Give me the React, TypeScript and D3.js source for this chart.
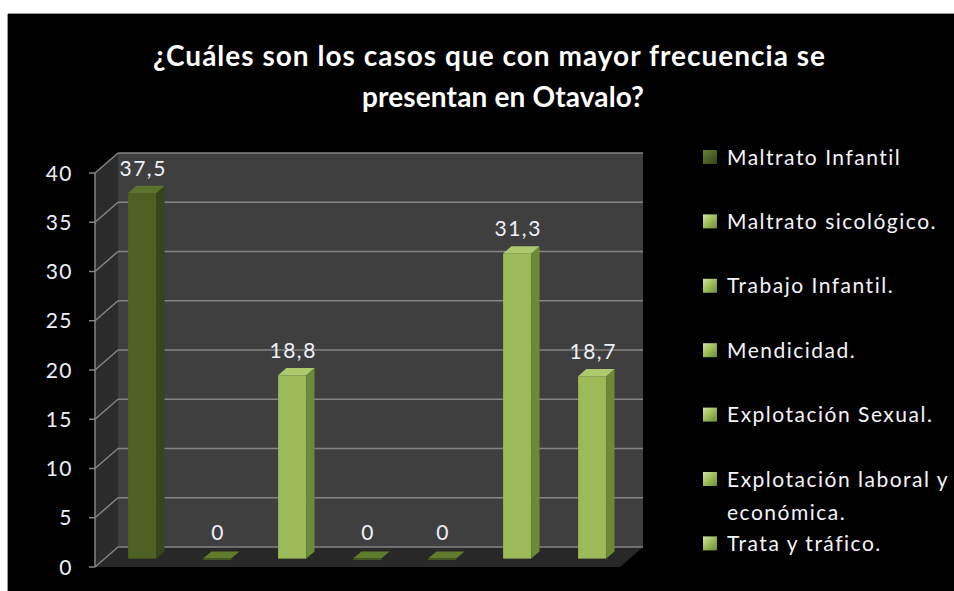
import React from "react";
import * as d3 from "d3";

const categories = [
  "Maltrato Infantil",
  "Maltrato sicológico.",
  "Trabajo Infantil.",
  "Mendicidad.",
  "Explotación Sexual.",
  "Explotación laboral y económica.",
  "Trata y tráfico.",
];
const values = [37.5, 0, 18.8, 0, 0, 31.3, 18.7];
const valueLabels = ["37,5", "0", "18,8", "0", "0", "31,3", "18,7"];
const legendLines = [
  ["Maltrato Infantil"],
  ["Maltrato sicológico."],
  ["Trabajo Infantil."],
  ["Mendicidad."],
  ["Explotación Sexual."],
  ["Explotación laboral y", "económica."],
  ["Trata y tráfico."],
];
const yTicks = [0, 5, 10, 15, 20, 25, 30, 35, 40];
const titleLines = ["¿Cuáles son los casos que con mayor frecuencia se", "presentan en Otavalo?"];

const W = 954;
const H = 591;
const X0 = 95;
const X1 = 620;
const DX = 23;
const DY = -20;
const F0 = 0.42;
const F1 = 0.78;

const dark = { front: "#4d6125", side: "#36461a", top: "#5b732d" };
const light = { front: "#9bbb59", side: "#6d8a36", top: "#adc96e" };
const flat = "#5f7b2c";

export default function App() {
  const y = d3.scaleLinear().domain([0, 40]).range([567, 173]);
  const yBar = d3.scaleLinear().domain([0, 40]).range([567 + F0 * DY, 567 + F0 * DY - 390]);
  const x = d3.scaleBand<string>().domain(categories).range([X0, X1]).paddingInner(0).paddingOuter(0);
  const bw = x.bandwidth() * 0.375;
  const dd = F1 - F0;
  const font = "Lato, 'Open Sans', sans-serif";

  const pts = (a: [number, number][]) => a.map((p) => p.join(",")).join(" ");

  return (
    <div style={{ position: "absolute", left: 0, top: 0 }}>
      <svg width={W} height={H} style={{ display: "block" }}>
        <defs>
          <linearGradient id="lgDark" x1="0" y1="0" x2="1" y2="1">
            <stop offset="0" stopColor="#6b8038" />
            <stop offset="0.5" stopColor="#4d6125" />
            <stop offset="1" stopColor="#33431a" />
          </linearGradient>
          <linearGradient id="lgLight" x1="0" y1="0" x2="1" y2="1">
            <stop offset="0" stopColor="#d3e6a6" />
            <stop offset="0.5" stopColor="#9bbb59" />
            <stop offset="1" stopColor="#6d8a36" />
          </linearGradient>
        </defs>
        <rect x={0} y={0} width={W} height={H} fill="#ffffff" />
        <rect x={8} y={14} width={W - 8} height={H - 14} fill="#000000" />
        <line x1={8} y1={13.5} x2={W} y2={13.5} stroke="#9a9a9a" strokeWidth={1} />
        <line x1={7.5} y1={14} x2={7.5} y2={H} stroke="#9a9a9a" strokeWidth={1} />

        {/* Title */}
        <text
          x={153}
          y={66}
          fill="#ffffff"
          fontFamily={font}
          fontWeight="bold"
          fontSize={28}
          textLength={672}
          lengthAdjust="spacing"
        >
          {titleLines[0]}
        </text>
        <text
          x={362}
          y={107}
          fill="#ffffff"
          fontFamily={font}
          fontWeight="bold"
          fontSize={28}
          textLength={282}
          lengthAdjust="spacing"
        >
          {titleLines[1]}
        </text>

        {/* Walls */}
        <polygon
          points={pts([
            [X0, y(40)],
            [X0 + DX, y(40) + DY],
            [X0 + DX, y(0) + DY],
            [X0, y(0)],
          ])}
          fill="#2b2b2b"
        />
        <polygon
          points={pts([
            [X0 + DX, y(40) + DY],
            [X1 + DX, y(40) + DY],
            [X1 + DX, y(0) + DY],
            [X0 + DX, y(0) + DY],
          ])}
          fill="#3f3f3f"
        />
        <polygon
          points={pts([
            [X0, y(0)],
            [X1, y(0)],
            [X1 + DX, y(0) + DY],
            [X0 + DX, y(0) + DY],
          ])}
          fill="#282828"
        />
        {yTicks.map((t) => (
          <g key={"g" + t}>
            <line x1={X0 + DX} x2={X1 + DX} y1={y(t) + DY} y2={y(t) + DY} stroke="#858585" strokeWidth={1.5} />
            <line x1={X0} x2={X0 + DX} y1={y(t)} y2={y(t) + DY} stroke="#858585" strokeWidth={1.5} />
            <line x1={X0 - 6} x2={X0} y1={y(t)} y2={y(t)} stroke="#858585" strokeWidth={1.5} />
            <text
              x={73}
              y={y(t)}
              dy="0.36em"
              textAnchor="end"
              fill="#eef0fa"
              fontFamily={font}
              fontSize={21}
              letterSpacing={1.5}
            >
              {t}
            </text>
          </g>
        ))}
        <line x1={X0} x2={X0} y1={y(40)} y2={y(0)} stroke="#858585" strokeWidth={1.5} />

        {/* Bars */}
        {categories.map((c, i) => {
          const v = values[i];
          const col = i === 0 ? dark : light;
          const xl = (x(c) as number) + (x.bandwidth() - bw) / 2 + F0 * DX;
          const xr = xl + bw;
          const base = yBar(0);
          const top = v > 0 ? yBar(v) : base - 1.5;
          const ox = dd * DX;
          const oy = dd * DY;
          return (
            <g key={c}>
              {v > 0 ? (
                <>
                  <rect x={xl} y={top} width={bw} height={base - top} fill={col.front} />
                  <polygon
                    points={pts([
                      [xr, top],
                      [xr + ox, top + oy],
                      [xr + ox, base + oy],
                      [xr, base],
                    ])}
                    fill={col.side}
                  />
                  <polygon
                    points={pts([
                      [xl, top],
                      [xr, top],
                      [xr + ox, top + oy],
                      [xl + ox, top + oy],
                    ])}
                    fill={col.top}
                  />
                </>
              ) : (
                <>
                  <polygon
                    points={pts([
                      [xl, base],
                      [xr, base],
                      [xr + ox, base + oy],
                      [xl + ox, base + oy],
                    ])}
                    fill={flat}
                  />
                  <rect x={xl} y={base} width={bw} height={1.5} fill="#44591f" />
                </>
              )}
              <text
                x={xl + bw / 2 + 1}
                y={top - 25}
                dy="0.36em"
                textAnchor="middle"
                fill="#eef0fa"
                fontFamily={font}
                fontSize={21}
                letterSpacing={1.5}
              >
                {valueLabels[i]}
              </text>
            </g>
          );
        })}

        {/* Legend */}
        {legendLines.map((lines, i) => {
          const cy = 157 + i * 64.4;
          return (
            <g key={"l" + i}>
              <rect
                x={703}
                y={cy - 7}
                width={14}
                height={14}
                fill={i === 0 ? "url(#lgDark)" : "url(#lgLight)"}
              />
              {lines.map((ln, j) => (
                <text
                  key={j}
                  x={727}
                  y={cy + j * 33}
                  dy="0.36em"
                  fill="#f4f4fa"
                  fontFamily={font}
                  fontSize={21}
                  letterSpacing={1.5}
                >
                  {ln}
                </text>
              ))}
            </g>
          );
        })}
      </svg>
    </div>
  );
}
